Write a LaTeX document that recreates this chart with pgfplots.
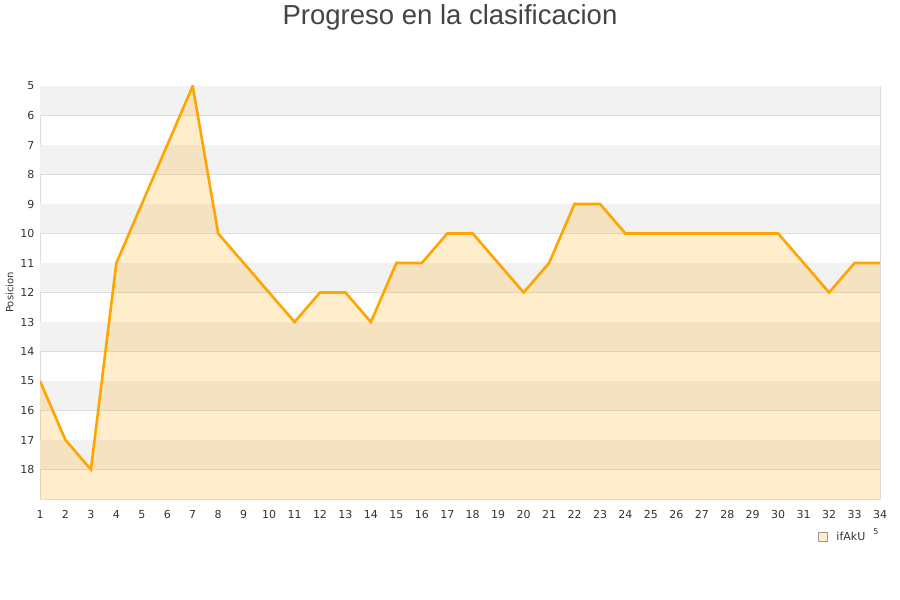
\documentclass[border=0pt]{standalone}
\usepackage{fontspec}
\setmainfont{DejaVu Sans}
\newfontfamily\titlefont{Liberation Sans}
\usepackage{pgfplots}
\pgfplotsset{compat=1.18}
\usepgfplotslibrary{fillbetween}
\usepackage{pgfplotstable}

\definecolor{lineorange}{HTML}{FFA500}
\definecolor{bandgray}{HTML}{F2F2F2}
\definecolor{gridgray}{HTML}{DDDDDD}
\definecolor{labelgray}{HTML}{333333}
\definecolor{titlegray}{HTML}{444444}
\definecolor{legfill}{HTML}{FFEDCC}

% jornada, posicion
\pgfplotstableread{
x y
1 15
2 17
3 18
4 11
5 9
6 7
7 5
8 10
9 11
10 12
11 13
12 12
13 12
14 13
15 11
16 11
17 10
18 10
19 11
20 12
21 11
22 9
23 9
24 10
25 10
26 10
27 10
28 10
29 10
30 10
31 11
32 12
33 11
34 11
}\posdata

\begin{document}
\begin{tikzpicture}[x=1pt,y=1pt]
\path (0,0) rectangle (900,600);
\node[font=\titlefont\fontsize{27.5}{30}\selectfont, text=titlegray] at (450,583) {Progreso en la clasificacion};
% alternating background bands (5-6, 7-8, ...)
\foreach \t in {514,455,396,337,278,219,160}
  \fill[bandgray] (40,\t) rectangle (880,\t-29.5);
\begin{axis}[
  at={(40pt,101pt)}, anchor=south west,
  scale only axis, width=840pt, height=413pt,
  xmin=1, xmax=34, ymin=5, ymax=19,
  y dir=reverse,
  xtick={1,...,34}, ytick={5,...,18},
  major tick length=0pt,
  ymajorgrids,
  grid style={gridgray, line width=0.8pt},
  axis line style={gridgray, line width=0.8pt},
  tick label style={font=\fontsize{11}{13}\selectfont, text=labelgray},
  /pgf/number format/assume math mode=true,
  xticklabel style={yshift=-8pt},
  yticklabel style={xshift=-2pt},
  ylabel={Posicion},
  ylabel style={at={(axis description cs:-0.036,0.5)}, anchor=center, font=\fontsize{10}{12}\selectfont, text=labelgray},
  legend style={at={(rel axis cs:0.960,-0.092)}, anchor=center, draw=none, fill=none,
    font=\fontsize{11}{13}\selectfont, text=labelgray},
  legend cell align=left,
  fill between/on layer=main,
]
\addplot[name path=bot, draw=none, forget plot] coordinates {(1,19) (34,19)};
\addplot[name path=top, draw=none, forget plot] table[x=x, y=y] {\posdata};
\addplot[fill=lineorange, fill opacity=0.2, draw=none, forget plot] fill between[of=top and bot];
\addplot[lineorange, line width=2.6pt, forget plot] table[x=x, y=y] {\posdata};
\addlegendimage{legend image code/.code={
  \path[draw=none, fill=none, use as bounding box] (2pt,-4.5pt) rectangle (11pt,4.5pt);
  \draw[draw=gray!80, fill=legfill, line width=0.5pt] (-5pt,-4.5pt) rectangle (4pt,4.5pt);}}
\addlegendentry{ifAkU}
\end{axis}
\node[font=\fontsize{8}{9}\selectfont, text=labelgray] at (876,68) {5};
\end{tikzpicture}
\end{document}
